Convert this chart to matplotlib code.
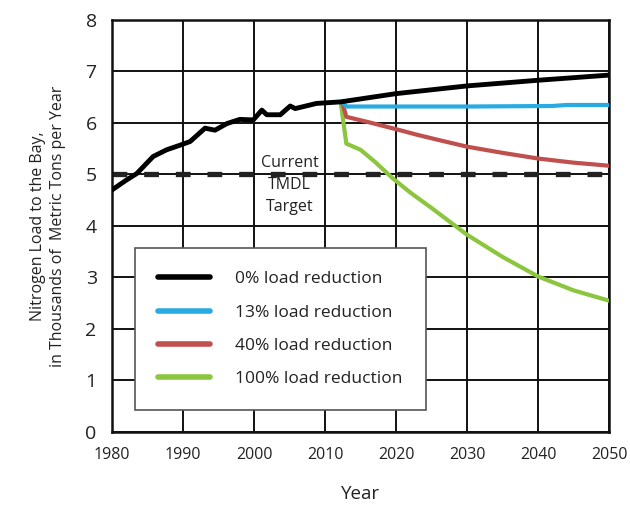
import matplotlib
matplotlib.use("Agg")
import matplotlib.pyplot as plt

# ---- data ----
hist_years = [1980, 1982, 1983.5, 1985.8, 1987.7, 1989.6, 1991, 1993.1, 1994.5, 1996.2, 1998, 1999.9,
              2001.1, 2001.8, 2003.7, 2005.1, 2005.8, 2008.8, 2012.2]
hist_vals = [4.70, 4.89, 5.02, 5.35, 5.48, 5.57, 5.64, 5.90, 5.86, 5.99, 6.07, 6.06,
             6.25, 6.16, 6.16, 6.33, 6.28, 6.38, 6.41]

r0_years = [2012.2, 2020, 2030, 2040, 2050]
r0_vals = [6.41, 6.57, 6.72, 6.83, 6.93]

r13_years = [2012.4, 2013, 2020, 2030, 2042, 2044, 2050]
r13_vals = [6.41, 6.32, 6.32, 6.32, 6.33, 6.35, 6.35]

r40_years = [2012.4, 2013, 2016, 2020, 2023, 2026, 2030, 2035, 2040, 2045, 2050]
r40_vals = [6.41, 6.12, 6.02, 5.88, 5.77, 5.67, 5.54, 5.42, 5.31, 5.23, 5.17]

r100_years = [2012.2, 2013, 2015, 2017, 2019.5, 2022, 2025, 2030, 2035, 2040, 2045, 2050]
r100_vals = [6.41, 5.60, 5.48, 5.25, 4.93, 4.65, 4.35, 3.83, 3.40, 3.02, 2.75, 2.55]

tmdl_target = 5.0
x_ticks = [1980, 1990, 2000, 2010, 2020, 2030, 2040, 2050]
y_ticks = [0, 1, 2, 3, 4, 5, 6, 7, 8]
labels = ["0% load reduction", "13% load reduction", "40% load reduction", "100% load reduction"]

plt.rcParams['font.family'] = ['Open Sans', 'DejaVu Sans']
txt = '#222222'

fig = plt.figure(figsize=(6.3, 5.05), dpi=100)
ax = fig.add_axes([0.1778, 0.1446, 0.7889, 0.8158])

ax.set_xlim(1980, 2050)
ax.set_ylim(0, 8)
ax.set_xticks(x_ticks)
ax.set_yticks(y_ticks)
ax.grid(True, color='#111111', linewidth=1.4, zorder=0)
ax.set_axisbelow(True)
for s in ax.spines.values():
    s.set_linewidth(1.8)
    s.set_color('#111111')
ax.tick_params(length=0)
ax.tick_params(axis='x', labelsize=11.5, labelcolor=txt, pad=11)
ax.tick_params(axis='y', labelsize=14, labelcolor=txt, pad=11)

ax.axhline(tmdl_target, color='#222222', linewidth=3.8, dashes=(2.8, 3.2), zorder=2)

green = '#8cc63f'
red = '#c0504d'
blue = '#29abe2'
ax.plot(r100_years, r100_vals, color=green, linewidth=3, zorder=3, solid_capstyle='round')
ax.plot(r40_years, r40_vals, color=red, linewidth=3, zorder=3, solid_capstyle='round')
ax.plot(r13_years, r13_vals, color=blue, linewidth=3, zorder=3, solid_capstyle='round')
ax.plot(hist_years + r0_years[1:], hist_vals + r0_vals[1:], color='black', linewidth=3.5, zorder=4,
        solid_capstyle='round', solid_joinstyle='round')

for y, t in zip([5.22, 4.80, 4.37], ["Current", "TMDL", "Target"]):
    ax.text(2005.0, y, t, ha='center', va='center', fontsize=11.5, color=txt, zorder=5)

handles = [plt.Line2D([], [], color=c, linewidth=4, solid_capstyle='round') for c in ['black', blue, red, green]]
leg = ax.legend(handles, labels, loc='upper left', bbox_to_anchor=(0.046, 0.447), fontsize=12.5,
                frameon=True, fancybox=False, edgecolor='#555555', framealpha=1, handlelength=3.0,
                handletextpad=1.4, labelspacing=0.98, borderpad=1.35, borderaxespad=0)
leg.get_frame().set_linewidth(1.2)
for t in leg.get_texts():
    t.set_color(txt)
leg.set_zorder(6)

ax.set_xlabel("Year", fontsize=13.5, color=txt, labelpad=16)
ax.set_ylabel("Nitrogen Load to the Bay,\nin Thousands of  Metric Tons per Year", fontsize=11.5,
              color=txt, labelpad=14, linespacing=1.35)

fig.savefig("out.png", dpi=100)
